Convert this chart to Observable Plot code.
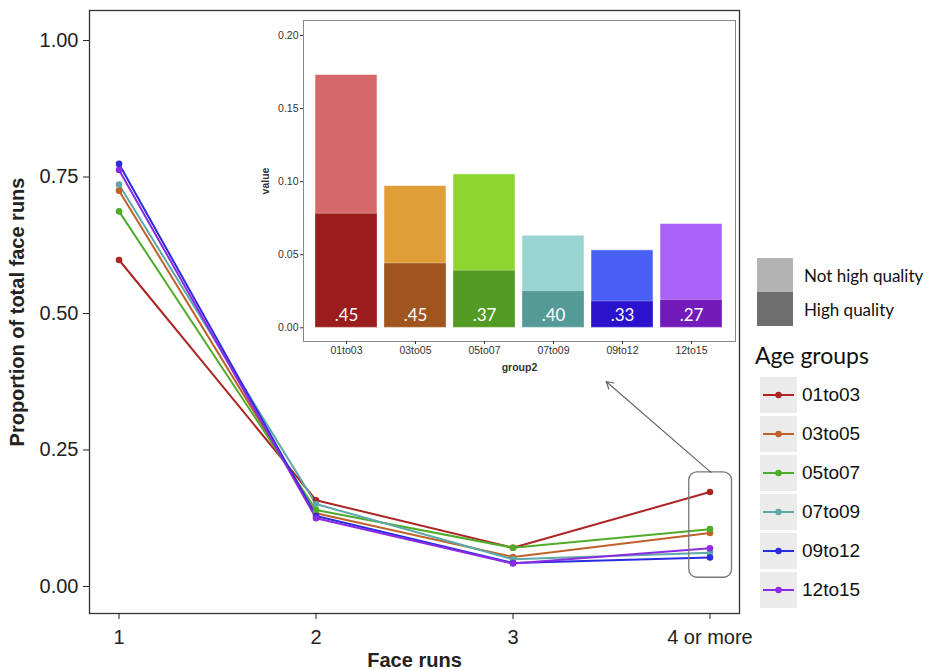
<!DOCTYPE html>
<html><head><meta charset="utf-8">
<script src="https://cdn.jsdelivr.net/npm/d3@7"></script>
<script src="https://cdn.jsdelivr.net/npm/@observablehq/plot@0.6"></script>
<style>
body{margin:0;background:#fff;}
#wrap{position:relative;width:928px;height:670px;overflow:hidden;background:#fff;}
#wrap svg{position:absolute;left:0;top:0;}
g[aria-label="x-axis label"] text, g[aria-label="y-axis label"] text{font-weight:bold;}
.lg{position:absolute;white-space:nowrap;}
</style>
</head><body>
<div id="wrap"></div>
<script>
// ---- data ----
const groups = ["01to03","03to05","05to07","07to09","09to12","12to15"];
const runs = [1,2,3,4];
const runLabels = ["1","2","3","4 or more"];
const v01to03 = [0.598, 0.158, 0.071, 0.173];
const v03to05 = [0.725, 0.134, 0.054, 0.098];
const v05to07 = [0.687, 0.140, 0.071, 0.105];
const v07to09 = [0.736, 0.151, 0.050, 0.062];
const v09to12 = [0.774, 0.129, 0.043, 0.053];
const v12to15 = [0.763, 0.125, 0.042, 0.070];
const lineColors = ["#ad2424","#c0612b","#4fab2a","#5fa8a8","#2b2be2","#8b2be2"];

const insetTotal = [0.173, 0.097, 0.105, 0.063, 0.053, 0.071];
const insetHigh  = [0.078, 0.044, 0.039, 0.025, 0.018, 0.019];
const insetLabels = [".45", ".45", ".37", ".40", ".33", ".27"];
const lightColors = ["#d6686a","#df9e36","#8dd630","#98d4d2","#4a5ff5","#a962f5"];
const darkColors  = ["#9a1c1c","#a0541f","#529a23","#559a97","#2b12cc","#731bb8"];

const qualityLabels = ["Not high quality","High quality"];
const qualityColors = ["#b3b3b3","#6e6e6e"];

// ---- build ----
const series = [v01to03, v03to05, v05to07, v07to09, v09to12, v12to15];
const data = groups.flatMap((g, i) => runs.map((r, j) => ({group: g, run: r, value: series[i][j]})));
const last = data.filter(d => d.run === 4);
const sans = "'Liberation Sans', Arial, Helvetica, sans-serif";

const main = Plot.plot({
  width: 928, height: 670,
  marginLeft: 89, marginRight: 189, marginTop: 10, marginBottom: 57,
  style: {background: "transparent", fontFamily: sans, fontSize: "20px", color: "#222"},
  x: {domain: [0.85, 4.15]},
  y: {domain: [-0.0495, 1.055]},
  color: {domain: groups, range: lineColors},
  marks: [
    Plot.frame({stroke: "#333", strokeWidth: 1.3}),
    Plot.axisX({ticks: runs, tickFormat: d => runLabels[d - 1], tickSize: 6, tickPadding: 10,
      label: "Face runs", labelAnchor: "center", labelArrow: "none", labelOffset: 53}),
    Plot.axisY({ticks: [0, 0.25, 0.5, 0.75, 1], tickFormat: d3.format(".2f"), tickSize: 6, tickPadding: 5,
      label: "Proportion of total face runs", labelAnchor: "center", labelArrow: "none", labelOffset: 80}),
    Plot.line(data, {x: "run", y: "value", stroke: "group", strokeWidth: 2}),
    Plot.dot(data, {x: "run", y: "value", fill: "group", r: 3.3}),
    Plot.rect([0], {x1: 4 - 0.105, x2: 4 + 0.112,
      y1: d3.min(last, d => d.value) - 0.037, y2: d3.max(last, d => d.value) + 0.036,
      rx: 8, fill: "none", stroke: "#777", strokeWidth: 1.3}),
    Plot.arrow([0], {x1: 4.005, y1: d3.max(last, d => d.value) + 0.036, x2: 3.473, y2: 0.3755,
      stroke: "#666", strokeWidth: 1.2, headLength: 10})
  ]
});

const bars = groups.map((g, i) => ({group: g, total: insetTotal[i], high: insetHigh[i],
  label: insetLabels[i], light: lightColors[i], dark: darkColors[i]}));

const inset = Plot.plot({
  width: 928, height: 670,
  marginLeft: 303, marginRight: 193, marginTop: 20, marginBottom: 329,
  style: {background: "transparent", fontFamily: sans, fontSize: "10.5px", color: "#333"},
  x: {type: "band", domain: groups, paddingInner: 0.1, paddingOuter: 0.15},
  y: {domain: [-0.0094, 0.2103]},
  color: {type: "identity"},
  marks: [
    Plot.frame({stroke: "#888", strokeWidth: 1}),
    Plot.barY(bars, {x: "group", y: "total", fill: "light", stroke: "#fff", strokeOpacity: 0.5, strokeWidth: 1}),
    Plot.barY(bars, {x: "group", y: "high", fill: "dark", stroke: "#fff", strokeOpacity: 0.3, strokeWidth: 1}),
    Plot.text(bars, {x: "group", y: 0, text: "label", fill: "#fff", dy: -12, fontSize: 17, fontFamily: "Lato, 'Open Sans', sans-serif"}),
    Plot.axisX({tickSize: 3, tickPadding: 2, label: "group2", labelAnchor: "center", labelArrow: "none", labelOffset: 29}),
    Plot.axisY({ticks: [0, 0.05, 0.1, 0.15, 0.2], tickFormat: d3.format(".2f"), tickSize: 3, tickPadding: 2,
      label: "value", labelAnchor: "center", labelArrow: "none", labelOffset: 42})
  ]
});

const wrap = document.getElementById("wrap");
wrap.appendChild(main);
wrap.appendChild(inset);

// ---- legends ----
function div(css, html) {
  const d = document.createElement("div");
  d.className = "lg";
  d.style.cssText = css;
  if (html != null) d.textContent = html;
  wrap.appendChild(d);
  return d;
}
qualityLabels.forEach((t, i) => {
  div(`left:757px;top:${258 + i * 34}px;width:36px;height:34px;background:${qualityColors[i]};`);
  div(`left:804px;top:${276 + i * 34 - 11}px;height:22px;line-height:22px;font-family:Lato,'Open Sans',sans-serif;font-size:17px;color:#111;`, t);
});
div(`left:755px;top:339px;height:32px;line-height:32px;font-family:Lato,'Open Sans',sans-serif;font-size:23px;color:#111;`, "Age groups");
groups.forEach((g, i) => {
  const top = 377 + i * 39;
  const box = div(`left:760px;top:${top}px;width:37px;height:36px;background:#ebebeb;`);
  box.innerHTML = `<svg width="37" height="36" style="position:static"><line x1="3" x2="34" y1="18" y2="18" stroke="${lineColors[i]}" stroke-width="2"/><circle cx="18.5" cy="18" r="3.2" fill="${lineColors[i]}"/></svg>`;
  div(`left:802px;top:${top + 7}px;height:22px;line-height:22px;font-family:${sans};font-size:19px;color:#111;`, g);
});
</script>
</body></html>
